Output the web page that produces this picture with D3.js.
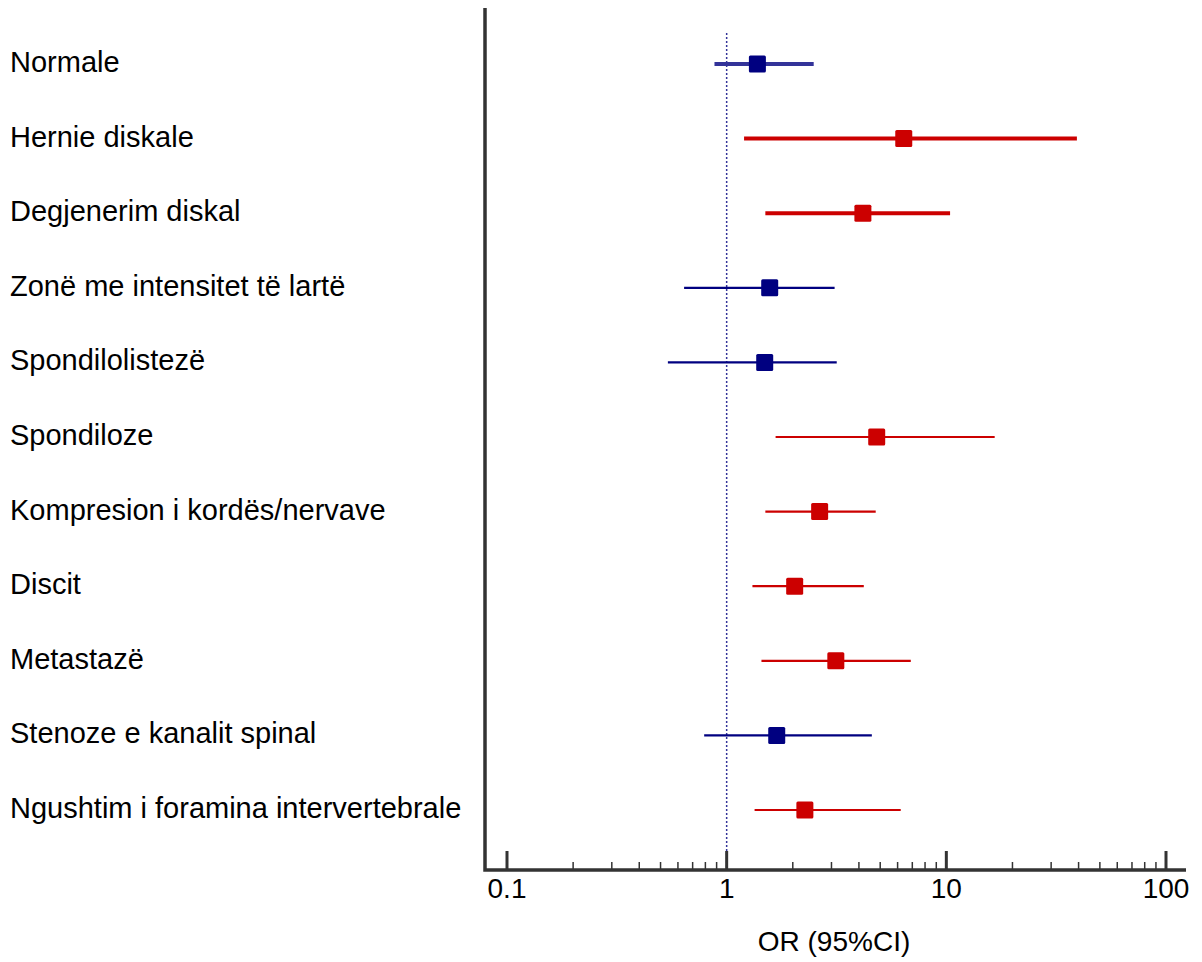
<!DOCTYPE html>
<html>
<head>
<meta charset="utf-8">
<script src="https://cdn.jsdelivr.net/npm/d3@7"></script>
<style>
  body { margin: 0; background: #fff; }
  svg { font-family: "Liberation Sans", Arial, sans-serif; }
</style>
</head>
<body>
<svg id="chart" width="1202" height="962"></svg>
<script>
const categories = [
  "Normale",
  "Hernie diskale",
  "Degjenerim diskal",
  "Zonë me intensitet të lartë",
  "Spondilolistezë",
  "Spondiloze",
  "Kompresion i kordës/nervave",
  "Discit",
  "Metastazë",
  "Stenoze e kanalit spinal",
  "Ngushtim i foramina intervertebrale",
];
const oddsRatio = [1.38, 6.4, 4.17, 1.57, 1.49, 4.82, 2.65, 2.04, 3.14, 1.69, 2.27];
const ciLow = [0.88, 1.2, 1.5, 0.64, 0.54, 1.67, 1.5, 1.31, 1.44, 0.79, 1.34];
const ciHigh = [2.49, 39.3, 10.4, 3.1, 3.17, 16.6, 4.77, 4.21, 6.89, 4.58, 6.2];
const majorTicks = [0.1, 1, 10, 100];

const rows = categories.map((c, i) => ({
  name: c, or: oddsRatio[i], lo: ciLow[i], hi: ciHigh[i], i: i
}));

const svg = d3.select("#chart");

const x = d3.scaleLog().domain([0.1, 100]).range([507, 1166]);
const y = d3.scalePoint().domain(categories).range([64, 810]);

// which rows get the heavy line (top block of the figure)
const isThick = (d) => d.i < 3;
const isSig = (d) => d.lo > 1;
const lineColor = (d) => isSig(d) ? "#cc0000" : (isThick(d) ? "#333399" : "#000080");
const markColor = (d) => isSig(d) ? "#cc0000" : "#000080";

// reference line at OR = 1
svg.append("line")
  .attr("x1", x(1)).attr("x2", x(1))
  .attr("y1", 33).attr("y2", 870)
  .attr("stroke", "#333399")
  .attr("stroke-width", 1.5)
  .attr("stroke-dasharray", "2,2");

// confidence intervals
svg.selectAll(".ci")
  .data(rows)
  .enter()
  .append("line")
  .attr("class", "ci")
  .attr("x1", d => x(d.lo))
  .attr("x2", d => x(d.hi))
  .attr("y1", d => y(d.name))
  .attr("y2", d => y(d.name))
  .attr("stroke", lineColor)
  .attr("stroke-width", d => isThick(d) ? 4 : 2.2);

// point estimates
const sq = 17;
svg.selectAll(".pt")
  .data(rows)
  .enter()
  .append("rect")
  .attr("class", "pt")
  .attr("x", d => x(d.or) - sq / 2)
  .attr("y", d => y(d.name) - sq / 2)
  .attr("width", sq)
  .attr("height", sq)
  .attr("rx", 1.5)
  .attr("fill", markColor);

// row labels
svg.selectAll(".lab")
  .data(rows)
  .enter()
  .append("text")
  .attr("class", "lab")
  .attr("x", 10)
  .attr("y", d => y(d.name) + 8)
  .attr("font-size", 29)
  .attr("fill", "#000")
  .text(d => d.name);

// minor ticks
const minor = [];
for (let dec = 0.1; dec < 100; dec *= 10) {
  for (let k = 2; k <= 9; k++) minor.push(+(dec * k).toPrecision(3));
}
svg.selectAll(".minor")
  .data(minor)
  .enter()
  .append("line")
  .attr("class", "minor")
  .attr("x1", d => x(d)).attr("x2", d => x(d))
  .attr("y1", 862).attr("y2", 870)
  .attr("stroke", "#333")
  .attr("stroke-width", 1.5);

// major ticks
svg.selectAll(".major")
  .data(majorTicks)
  .enter()
  .append("line")
  .attr("class", "major")
  .attr("x1", d => x(d)).attr("x2", d => x(d))
  .attr("y1", 851).attr("y2", 870)
  .attr("stroke", "#333")
  .attr("stroke-width", 3);

svg.selectAll(".tl")
  .data(majorTicks)
  .enter()
  .append("text")
  .attr("class", "tl")
  .attr("x", d => x(d))
  .attr("y", 898)
  .attr("text-anchor", "middle")
  .attr("font-size", 28)
  .attr("fill", "#000")
  .text(d => d);

// axis frame
svg.append("path")
  .attr("d", "M485,8 L485,870 L1186,870")
  .attr("fill", "none")
  .attr("stroke", "#333")
  .attr("stroke-width", 3.5);

svg.append("text")
  .attr("x", 834)
  .attr("y", 951)
  .attr("text-anchor", "middle")
  .attr("font-size", 28)
  .attr("fill", "#000")
  .text("OR (95%CI)");
</script>
</body>
</html>
